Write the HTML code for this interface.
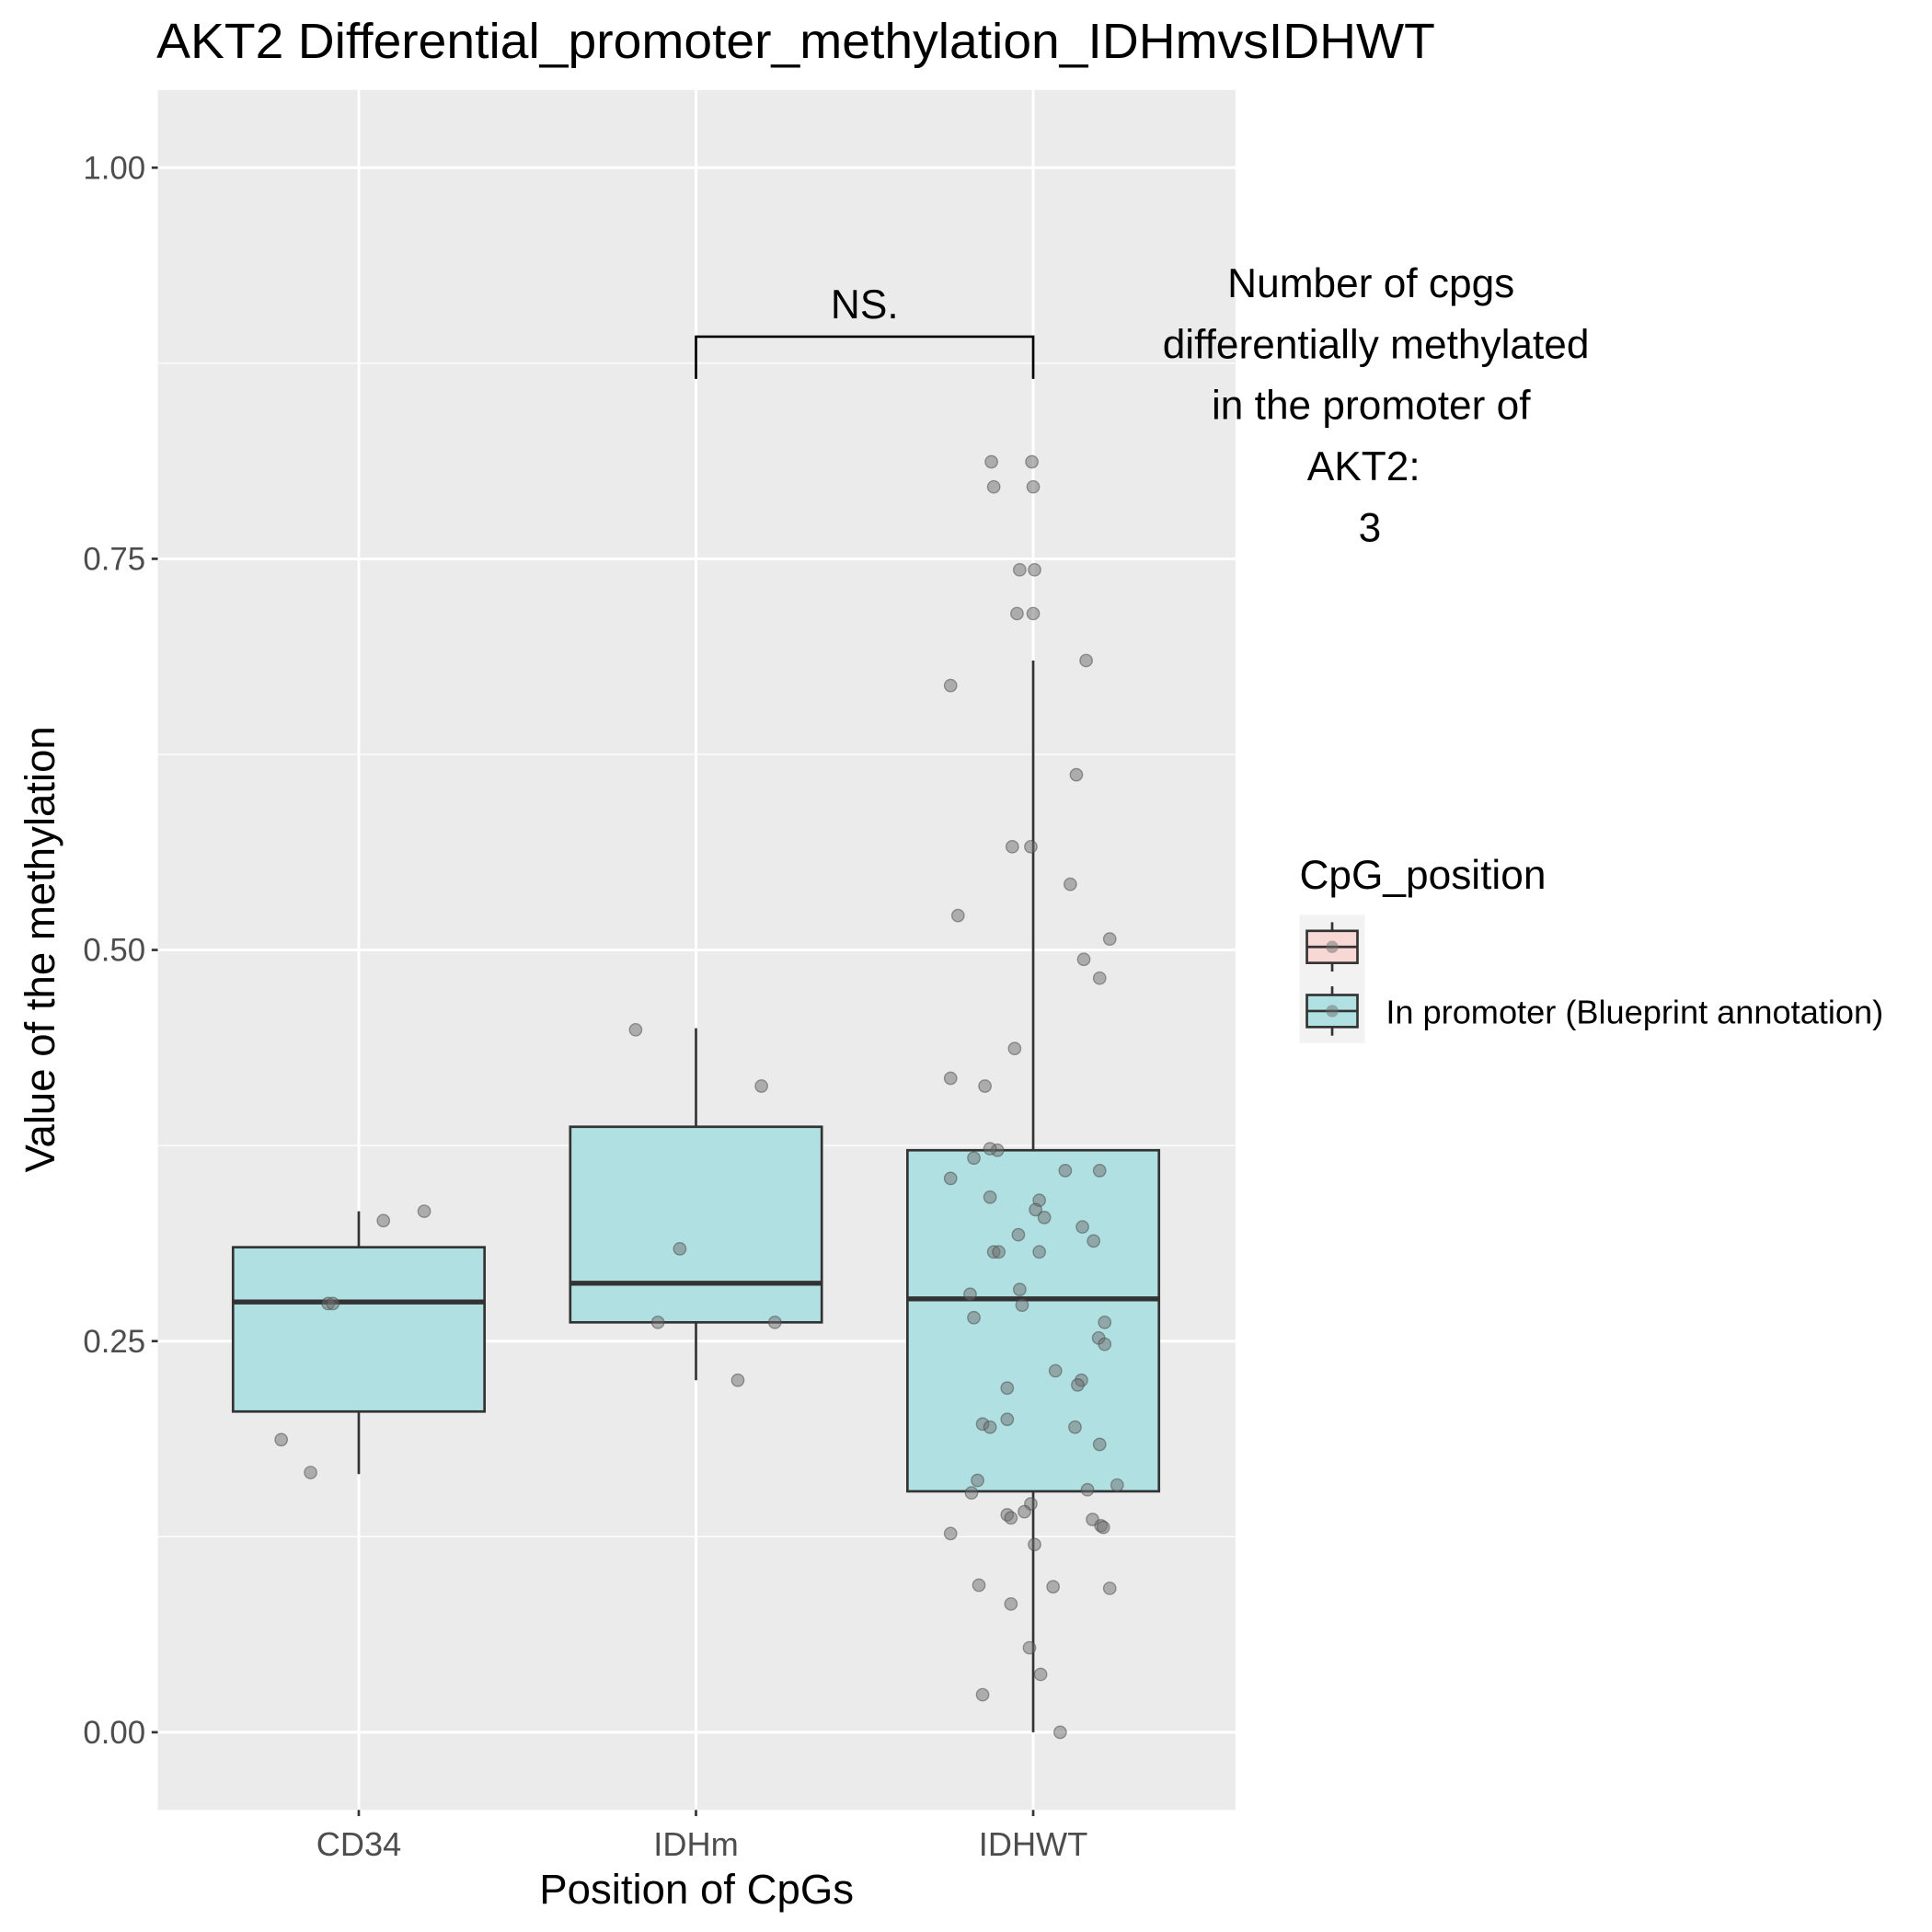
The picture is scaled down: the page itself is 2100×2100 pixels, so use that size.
<!DOCTYPE html>
<html><head><meta charset="utf-8"><style>body{margin:0;background:#fff}svg{display:block}text{font-family:"Liberation Sans",Arial,sans-serif}</style></head>
<body>
<svg id="c" width="2100" height="2100" viewBox="0 0 1567 1567"></svg>
<script>
const categories=["CD34","IDHm","IDHWT"];
const q1=[0.205,0.262,0.154];
const medians=[0.275,0.287,0.277];
const q3=[0.31,0.387,0.372];
const whiskLo=[0.165,0.225,0];
const whiskHi=[0.333,0.45,0.685];
const yTicks=[0,0.25,0.5,0.75,1];
const yTickLabels=["0.00","0.25","0.50","0.75","1.00"];
const ptVal=[0.187,0.166,0.274,0.274,0.327,0.333, 0.449,0.413,0.309,0.262,0.262,0.225,
0.812,0.812,0.796,0.796,0.743,0.743,0.715,0.715,0.669,0.685,0.612,0.566,0.566,0.542,0.522,0.507,0.494,0.482,0.437,0.418,0.413,0.372,0.367,0.373,0.359,0.359,0.354,0.342,0.340,0.334,0.329,0.323,0.318,0.314,0.307,0.307,0.307,0.283,0.280,0.273,0.265,0.262,0.252,0.248,0.231,0.225,0.222,0.220,0.197,0.200,0.195,0.195,0.184,0.161,0.155,0.158,0.153,0.146,0.141,0.139,0.137,0.136,0.132,0.131,0.127,0.120,0.094,0.093,0.092,0.082,0.054,0.037,0.024,0];
const ptJit=[-0.230,-0.143,-0.091,-0.077,0.073,0.194, -0.179,0.194,-0.048,-0.113,0.234,0.124,
-0.124,-0.004,-0.117,0,-0.040,0.004,-0.048,0,-0.245,0.157,0.128,-0.062,-0.007,0.110,-0.223,0.227,0.150,0.197,-0.055,-0.245,-0.143,-0.106,-0.176,-0.128,0.095,0.197,-0.245,-0.128,0.018,0.007,0.033,0.146,-0.044,0.179,-0.117,-0.102,0.018,-0.040,-0.187,-0.033,-0.176,0.212,0.194,0.212,0.066,0.143,0.132,-0.077,-0.150,-0.077,-0.128,0.124,0.197,-0.165,0.161,0.249,-0.183,-0.007,-0.026,-0.077,-0.066,0.176,0.201,0.208,-0.245,0.004,-0.161,0.059,0.227,-0.066,-0.011,0.022,-0.150,0.080];
const ptCat=[0,0,0,0,0,0,1,1,1,1,1,1].concat(Array(ptVal.length-12).fill(2));
const svg=document.getElementById('c');const NS='http://www.w3.org/2000/svg';
const L=128,R=1002,T=73,B=1468;
const xs=i=>291+i*273.5; const ys=v=>1405-v*1269;
function mk(t,a,p){const e=document.createElementNS(NS,t);for(const k in a)e.setAttribute(k,a[k]);(p||svg).appendChild(e);return e;}
let e;
e=mk('rect',{x:L,y:T,width:R-L,height:B-T,fill:'#ebebeb'});


for(let i=0;i<yTicks.length-1;i++){e=mk('line',{x1:L,x2:R,y1:ys(yTicks[i]+0.125),y2:ys(yTicks[i]+0.125),stroke:'#fff','stroke-width':1});

}
yTicks.forEach((t,i)=>{const y=ys(t);
e=mk('line',{x1:L,x2:R,y1:y,y2:y,stroke:'#fff','stroke-width':2.2});


mk('line',{x1:L-5,x2:L,y1:y,y2:y,stroke:'#333','stroke-width':2});
e=mk('text',{x:L-10,y:y+9,'text-anchor':'end','font-size':26,fill:'#4d4d4d'});e.textContent=yTickLabels[i];

});
categories.forEach((c,i)=>{const x=xs(i);
e=mk('line',{x1:x,x2:x,y1:T,y2:B,stroke:'#fff','stroke-width':2.2});


mk('line',{x1:x,x2:x,y1:B,y2:B+5,stroke:'#333','stroke-width':2});
e=mk('text',{x:x,y:B+37,'text-anchor':'middle','font-size':27,fill:'#4d4d4d'});e.textContent=c;

});
categories.forEach((c,i)=>{const x=xs(i),w=102;const g=mk('g',{});


mk('line',{x1:x,x2:x,y1:ys(whiskLo[i]),y2:ys(whiskHi[i]),stroke:'#333','stroke-width':2},g);
mk('rect',{x:x-w,y:ys(q3[i]),width:2*w,height:ys(q1[i])-ys(q3[i]),fill:'#b0e0e2',stroke:'#333','stroke-width':2},g);
mk('line',{x1:x-w,x2:x+w,y1:ys(medians[i]),y2:ys(medians[i]),stroke:'#333','stroke-width':4},g);});
ptVal.forEach((v,k)=>{e=mk('circle',{cx:xs(ptCat[k]+ptJit[k]),cy:ys(v),r:5,fill:'rgba(110,110,110,0.5)',stroke:'rgba(70,70,70,0.5)','stroke-width':1});

});
e=mk('path',{d:`M${xs(1)} ${ys(0.865)} V${ys(0.892)} H${xs(2)} V${ys(0.865)}`,fill:'none',stroke:'#000','stroke-width':2});


e=mk('text',{x:(xs(1)+xs(2))/2,y:258,'text-anchor':'middle','font-size':33});e.textContent='NS.';


["Number of cpgs","differentially methylated","in the promoter of","AKT2:","3"].forEach((s,i)=>{
e=mk('text',{x:[1112,1116,1112,1106,1111][i],y:241+i*49.5,'text-anchor':'middle','font-size':33});e.textContent=s;

});
e=mk('text',{x:127,y:47,'font-size':40,textLength:1037,lengthAdjust:'spacingAndGlyphs'});e.textContent='AKT2 Differential_promoter_methylation_IDHmvsIDHWT';


e=mk('text',{x:565,y:1544,'text-anchor':'middle','font-size':34});e.textContent='Position of CpGs';


e=mk('text',{x:0,y:0,'text-anchor':'middle','font-size':34,transform:'translate(44,770) rotate(-90)'});e.textContent='Value of the methylation';


e=mk('text',{x:1054,y:721,'font-size':33});e.textContent='CpG_position';


[['#f8d8d4',742,''],['#b0e0e2',794,'In promoter (Blueprint annotation)']].forEach(([f,y,lab],i)=>{
const g=mk('g',{});


mk('rect',{x:1054,y:y,width:53,height:52,fill:'#f2f2f2'},g);
mk('line',{x1:1080.5,x2:1080.5,y1:y+6,y2:y+46,stroke:'#333','stroke-width':2},g);
mk('rect',{x:1060,y:y+13,width:41,height:26,fill:f,stroke:'#333','stroke-width':2},g);
mk('line',{x1:1060,x2:1101,y1:y+26,y2:y+26,stroke:'#333','stroke-width':2},g);
mk('circle',{cx:1080.5,cy:y+26,r:5,fill:'rgba(110,110,110,0.5)'},g);
const t=mk('text',{x:1124,y:y+36,'font-size':27},g);t.textContent=lab;});
</script>
</body></html>
